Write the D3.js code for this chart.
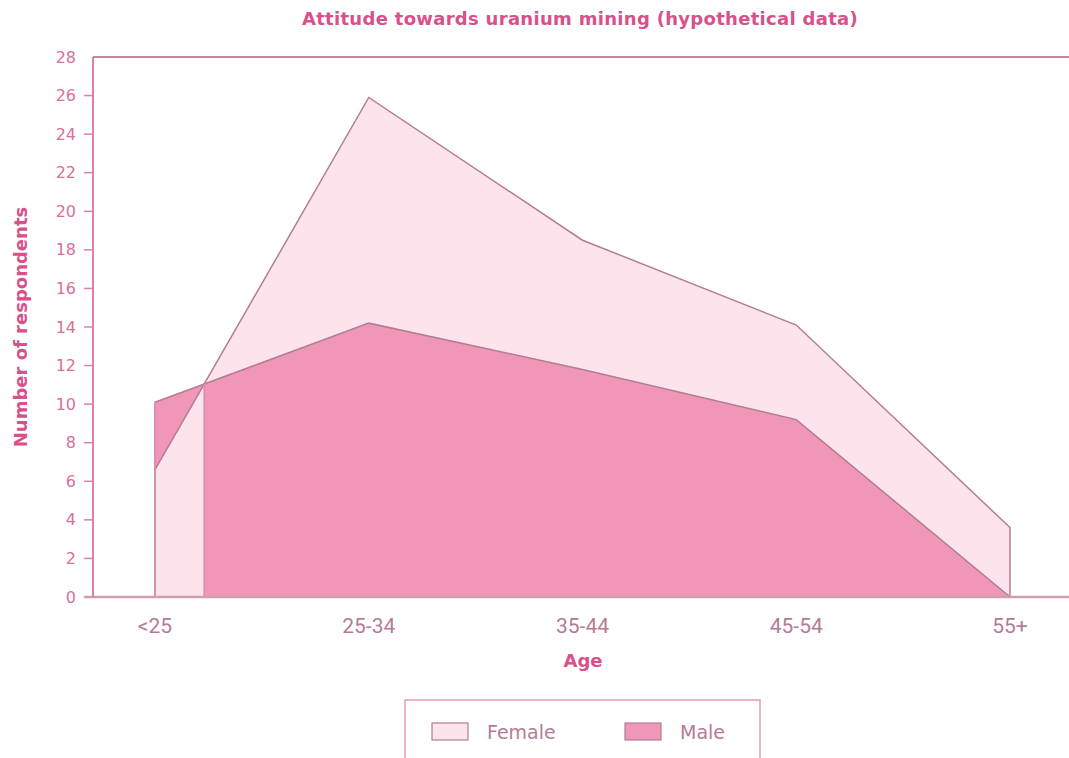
<!DOCTYPE html>
<html>
<head>
    <title>Attitude towards uranium mining</title>
    <script src="https://d3js.org/d3.v7.min.js"></script>
    <style>
        body {
            margin: 0;
            padding: 0;
            background: white;
            font-family: "DejaVu Sans", sans-serif;
        }
        .chart-title {
            font-size: 18px;
            font-weight: bold;
            fill: #d9508a;
            text-anchor: middle;
            letter-spacing: 0.3px;
        }
        .axis-title {
            font-size: 18px;
            font-weight: bold;
            fill: #d9508a;
            text-anchor: middle;
        }
        .y-tick {
            font-size: 16px;
            fill: #d9709a;
            text-anchor: end;
        }
        .x-tick {
            font-family: Roboto, sans-serif;
            font-size: 21px;
            fill: #b57b96;
            text-anchor: middle;
        }
        .legend-label {
            font-size: 19px;
            fill: #b57b96;
        }
    </style>
</head>
<body>
    <svg id="chart" width="1069" height="758"></svg>
    <script>
        const ageGroups = ['<25', '25-34', '35-44', '45-54', '55+'];
        const female = [6.6, 25.9, 18.5, 14.1, 3.6];
        const male = [10.1, 14.2, 11.8, 9.2, 0];
        const yTicks = d3.range(0, 29, 2);

        const fillFemale = '#fce3ec';
        const fillMale = '#f096b9';
        const edge = '#b27d93';

        const svg = d3.select('#chart');

        const x = d3.scalePoint()
            .domain(ageGroups)
            .range([155, 1010]);

        const y = d3.scaleLinear()
            .domain([0, 28])
            .range([597, 57]);

        // where the two series cross between the first two groups
        const d0 = female[0] - male[0];
        const d1 = female[1] - male[1];
        const t = d0 / (d0 - d1);
        const xCross = x(ageGroups[0]) + t * (x(ageGroups[1]) - x(ageGroups[0]));

        const area = d3.area()
            .x((d, i) => x(ageGroups[i]))
            .y0(y(0))
            .y1(d => y(d));

        const defs = svg.append('defs');
        defs.append('clipPath').attr('id', 'leftClip')
            .append('rect')
            .attr('x', 0).attr('y', 0)
            .attr('width', xCross).attr('height', y(0));

        const plot = svg.append('g');

        // female, then male, then female again left of the crossing
        plot.append('path')
            .datum(female)
            .attr('d', area)
            .attr('fill', fillFemale)
            .attr('stroke', edge)
            .attr('stroke-width', 1.5);

        plot.append('path')
            .datum(male)
            .attr('d', area)
            .attr('fill', fillMale)
            .attr('stroke', edge)
            .attr('stroke-width', 1.5);

        plot.append('path')
            .datum(female)
            .attr('d', area)
            .attr('clip-path', 'url(#leftClip)')
            .attr('fill', fillFemale)
            .attr('stroke', edge)
            .attr('stroke-width', 1.5);

        // boundary at crossing
        plot.append('line')
            .attr('x1', xCross).attr('x2', xCross)
            .attr('y1', y(0)).attr('y2', y(female[0] + t * (female[1] - female[0])))
            .attr('stroke', '#d98aa8')
            .attr('stroke-width', 1.5);

        // left edge of the first area
        plot.append('line')
            .attr('x1', x(ageGroups[0])).attr('x2', x(ageGroups[0]))
            .attr('y1', y(0)).attr('y2', y(Math.max(female[0], male[0])))
            .attr('stroke', '#e58fb0')
            .attr('stroke-width', 1.5);

        // top frame line
        svg.append('line')
            .attr('x1', 93).attr('x2', 1069)
            .attr('y1', y(28)).attr('y2', y(28))
            .attr('stroke', '#bf8aa3')
            .attr('stroke-width', 2);

        // bottom axis line
        svg.append('line')
            .attr('x1', 84).attr('x2', 1069)
            .attr('y1', y(0)).attr('y2', y(0))
            .attr('stroke', '#cf9db4')
            .attr('stroke-width', 2.5);

        // y axis
        svg.append('line')
            .attr('x1', 93).attr('x2', 93)
            .attr('y1', y(28)).attr('y2', y(0))
            .attr('stroke', '#df7fa6')
            .attr('stroke-width', 2);

        const yg = svg.append('g');
        yg.selectAll('line')
            .data(yTicks.filter(d => d > 0 && d < 28))
            .join('line')
            .attr('x1', 84).attr('x2', 93)
            .attr('y1', d => y(d)).attr('y2', d => y(d))
            .attr('stroke', '#df7fa6')
            .attr('stroke-width', 1.5);

        yg.selectAll('text')
            .data(yTicks)
            .join('text')
            .attr('class', 'y-tick')
            .attr('x', 76)
            .attr('y', d => y(d))
            .attr('dy', '0.35em')
            .text(d => d);

        // x tick labels
        svg.append('g').selectAll('text')
            .data(ageGroups)
            .join('text')
            .attr('class', 'x-tick')
            .attr('x', d => x(d))
            .attr('y', 633)
            .text(d => d);

        // titles
        svg.append('text')
            .attr('class', 'chart-title')
            .attr('x', 580)
            .attr('y', 25)
            .text('Attitude towards uranium mining (hypothetical data)');

        svg.append('text')
            .attr('class', 'axis-title')
            .attr('x', 583)
            .attr('y', 667)
            .text('Age');

        svg.append('text')
            .attr('class', 'axis-title')
            .attr('transform', 'translate(27,327) rotate(-90)')
            .text('Number of respondents');

        // legend
        const legend = svg.append('g');
        legend.append('rect')
            .attr('x', 405).attr('y', 700)
            .attr('width', 355).attr('height', 70)
            .attr('fill', 'white')
            .attr('stroke', '#e69bbb')
            .attr('stroke-width', 1.5);

        const legendItems = [
            { name: 'Female', fill: fillFemale, x: 432 },
            { name: 'Male', fill: fillMale, x: 625 }
        ];

        legend.selectAll('.swatch')
            .data(legendItems)
            .join('rect')
            .attr('class', 'swatch')
            .attr('x', d => d.x)
            .attr('y', 723)
            .attr('width', 36)
            .attr('height', 17)
            .attr('fill', d => d.fill)
            .attr('stroke', edge)
            .attr('stroke-width', 1.2);

        legend.selectAll('.legend-label')
            .data(legendItems)
            .join('text')
            .attr('class', 'legend-label')
            .attr('x', d => d.x + 55)
            .attr('y', 739)
            .text(d => d.name);
    </script>
</body>
</html>
